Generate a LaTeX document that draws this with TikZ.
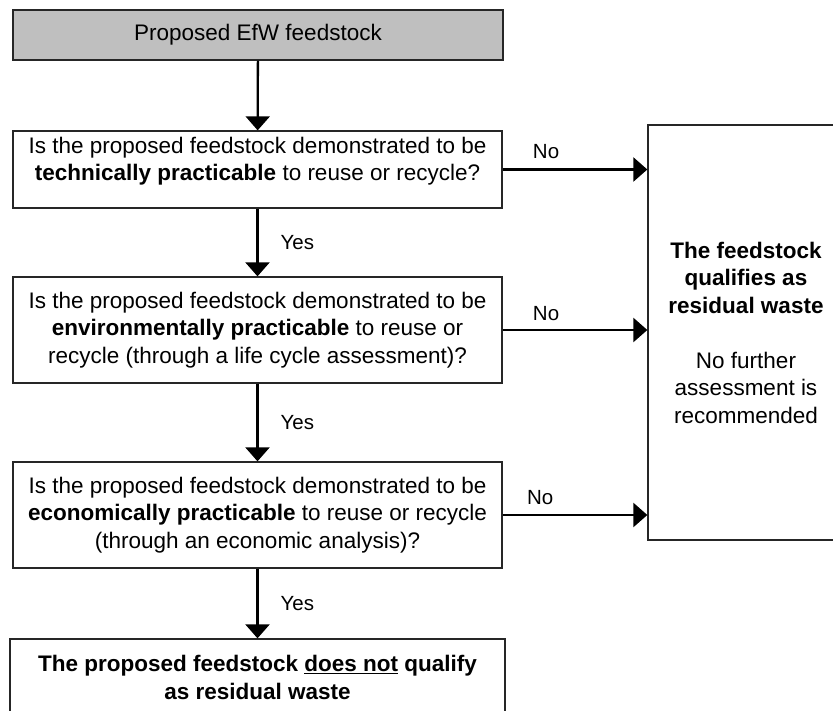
\documentclass[tikz,border=0pt]{standalone}
\usepackage{fontspec}
\setmainfont{Liberation Sans}
\usetikzlibrary{arrows.meta}
\tikzset{
  box/.style={draw=black!85, line width=1.3pt, rectangle, inner sep=0pt,
    align=center, font=\fontsize{22.5}{27.5}\selectfont},
  startbox/.style={box, fill=gray!50},
  txt/.style={inner sep=0pt, align=center, font=\fontsize{22.5}{27.5}\selectfont},
  flow/.style={line width=2.3pt, -{Triangle[width=24pt,length=14pt]}},
  lbl/.style={font=\fontsize{20.5}{24}\selectfont, inner sep=0pt},
}
\begin{document}
\begin{tikzpicture}[x=1pt,y=-1pt]
\useasboundingbox (0,0) rectangle (833,711);

% start box
\node[startbox, minimum width=490pt, minimum height=50pt] (start) at (258,35)
  {Proposed EfW feedstock};

% question boxes
\node[box, minimum width=489pt, minimum height=77pt] (q1) at (257.5,169.5) {};
\node[txt] (q1t) at (257.5,161)
  {Is the proposed feedstock demonstrated to be\\
   \textbf{technically practicable} to reuse or recycle?};
\node[box, minimum width=489pt, minimum height=106pt] (q2) at (257.5,330)
  {Is the proposed feedstock demonstrated to be\\
   \textbf{environmentally practicable} to reuse or\\
   recycle (through a life cycle assessment)?};
\node[box, minimum width=489pt, minimum height=106pt] (q3) at (257.5,515)
  {Is the proposed feedstock demonstrated to be\\
   \textbf{economically practicable} to reuse or recycle\\
   (through an economic analysis)?};

% outcomes
\node[box, minimum width=495pt, minimum height=77pt] (notres) at (257.5,677.5)
  {\textbf{The proposed feedstock \underline{does not} qualify}\\
   \textbf{as residual waste}};
\node[box, minimum width=196pt, minimum height=415pt] (res) at (746,332.5)
  {\textbf{The feedstock}\\ \textbf{qualifies as}\\ \textbf{residual waste}\\[27.5pt]
   No further\\ assessment is\\ recommended};

% connectors
\draw[flow] (start) -- (q1);
\draw[flow] (q1) -- node[lbl, anchor=west, xshift=22pt] {Yes} (q2);
\draw[flow] (q2) -- node[lbl, anchor=west, xshift=22pt] {Yes} (q3);
\draw[flow] (q3) -- node[lbl, anchor=west, xshift=22pt] {Yes} (notres);

\draw[flow] (q1.east) -- node[lbl, pos=0.30, yshift=18pt] {No} (q1.east -| res.west);
\draw[flow] (q2.east) -- node[lbl, pos=0.30, yshift=16pt] {No} (q2.east -| res.west);
\draw[flow] (q3.east) -- node[lbl, pos=0.26, yshift=17pt] {No} (q3.east -| res.west);
\end{tikzpicture}
\end{document}
